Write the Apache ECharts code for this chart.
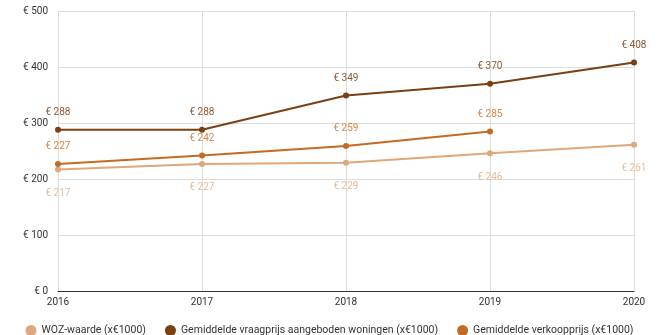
<!DOCTYPE html>
<html>
<head>
<meta charset="utf-8">
<script src="https://cdn.jsdelivr.net/npm/echarts@6/dist/echarts.min.js"></script>
<style>
  html, body { margin: 0; padding: 0; background: #fff; }
  #chart { width: 659px; height: 335px; }
</style>
</head>
<body>
<div id="chart"></div>
<script>
// Years on the x axis
const years = ['2016', '2017', '2018', '2019', '2020'];
// Values in thousands of euros
const wozWaarde = [217, 227, 229, 246, 261];
const vraagprijs = [288, 288, 349, 370, 408];
const verkoopprijs = [227, 242, 259, 285, null];

const yTicks = { min: 0, max: 500, interval: 100 };

const FONT = 'Roboto, "Noto Sans", sans-serif';
const euro = v => '€ ' + v;

function lineSeries(name, data, color, labelColor, labelPos) {
  return {
    name: name,
    type: 'line',
    data: data,
    color: color,
    symbol: 'circle',
    symbolSize: 6,
    lineStyle: { width: 2, color: color },
    itemStyle: { color: color },
    label: {
      show: true,
      position: labelPos,
      distance: labelPos === 'top' ? 9 : 16,
      color: labelColor,
      fontFamily: FONT,
      fontSize: 10,
      formatter: p => euro(p.value)
    },
    emphasis: { disabled: true }
  };
}

const chart = echarts.init(document.getElementById('chart'));
chart.setOption({
  animation: false,
  textStyle: { fontFamily: FONT },
  grid: { left: 58, right: 25, top: 11, bottom: 44, containLabel: false },
  legend: {
    top: 320,
    left: 'center',
    icon: 'circle',
    itemWidth: 11,
    itemHeight: 11,
    itemGap: 19,
    textStyle: { fontFamily: FONT, fontSize: 10.5, color: '#333' },
    data: [
      'WOZ-waarde (x€1000)',
      'Gemiddelde vraagprijs aangeboden woningen (x€1000)',
      'Gemiddelde verkoopprijs (x€1000)'
    ]
  },
  xAxis: {
    type: 'category',
    data: years,
    boundaryGap: false,
    axisLine: { show: true, lineStyle: { color: '#333', width: 1 } },
    axisTick: { show: false },
    axisLabel: { color: '#333', fontSize: 10, fontFamily: FONT, margin: 6 },
    splitLine: { show: true, lineStyle: { color: '#dddddd', width: 1 } }
  },
  yAxis: {
    type: 'value',
    min: yTicks.min,
    max: yTicks.max,
    interval: yTicks.interval,
    axisLine: { show: false },
    axisTick: { show: false },
    axisLabel: { color: '#333', fontSize: 10, fontFamily: FONT, margin: 10, formatter: euro },
    splitLine: { show: true, lineStyle: { color: '#dddddd', width: 1 } }
  },
  series: [
    lineSeries('WOZ-waarde (x€1000)', wozWaarde, '#dfa77a', '#e6bc98', 'bottom'),
    lineSeries('Gemiddelde vraagprijs aangeboden woningen (x€1000)', vraagprijs, '#7a3f12', '#8a5a35', 'top'),
    lineSeries('Gemiddelde verkoopprijs (x€1000)', verkoopprijs, '#c66a21', '#d08848', 'top')
  ]
});
</script>
</body>
</html>
